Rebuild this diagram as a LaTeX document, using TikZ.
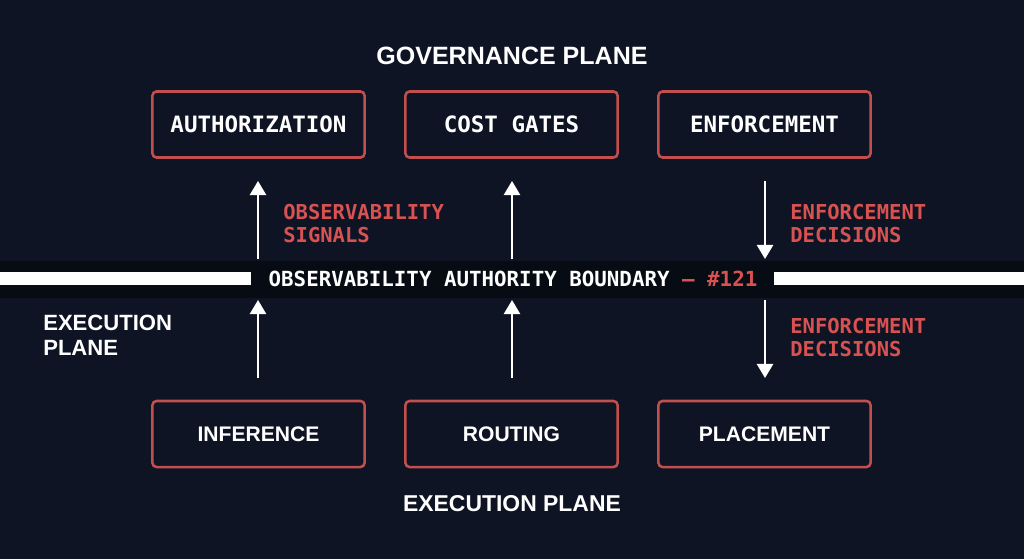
\documentclass[tikz,border=0pt]{standalone}
\usepackage{fontspec}
\setmainfont{Liberation Sans}
\newfontfamily\monofont{DejaVu Sans Mono}
\usetikzlibrary{arrows.meta}
\definecolor{bg}{HTML}{0E1424}
\definecolor{bandc}{HTML}{070B14}
\definecolor{redb}{HTML}{C24F4E}
\definecolor{redt}{HTML}{D85252}
\begin{document}
\begin{tikzpicture}[x=0.025cm,y=-0.025cm,
  box/.style={draw=redb,line width=1.8pt,rounded corners=0.1cm,fill=bg,
    minimum width=5.3cm,minimum height=1.65cm,text=white,inner sep=0pt},
  topbox/.style={box,font=\monofont\bfseries\fontsize{16}{18}\selectfont},
  botbox/.style={box,font=\bfseries\fontsize{15}{18}\selectfont},
  redlabel/.style={text=redt,align=left,anchor=west,inner sep=0pt,
    font=\monofont\bfseries\fontsize{14.6}{16.4}\selectfont},
  title/.style={text=white,inner sep=0pt,font=\bfseries\fontsize{17.8}{20}\selectfont},
  arr/.style={draw=white,line width=1.5pt,-{Triangle[width=11.5pt,length=10pt]}}
]
\useasboundingbox (0,0) rectangle (1024,559);
\fill[bg] (0,0) rectangle (1024,559);
% boundary band
\node[fill=bandc,minimum width=25.6cm,minimum height=0.925cm,inner sep=0pt] (band) at (512,279.5) {};
\fill[white] (0,272) rectangle (251,285);
\fill[white] (774,272) rectangle (1024,285);
\node[text=white,inner sep=0pt,font=\monofont\bfseries\fontsize{14.8}{17}\selectfont] (bnd) at (513,279)
  {OBSERVABILITY AUTHORITY BOUNDARY \textcolor{redt}{— \#121}};
% titles
\node[title] (gov) at (512,56) {GOVERNANCE PLANE};
\node[title,font=\bfseries\fontsize{16.3}{20}\selectfont] (exec) at (512,504) {EXECUTION PLANE};
\node[text=white,align=left,anchor=west,inner sep=0pt,font=\bfseries\fontsize{15.7}{17.8}\selectfont] (execl) at (43,335.5) {EXECUTION\\PLANE};
% top boxes
\node[topbox] (auth) at (258.5,124.5) {AUTHORIZATION};
\node[topbox] (cost) at (511.5,124.5) {COST GATES};
\node[topbox] (enf) at (764.5,124.5) {ENFORCEMENT};
% bottom boxes
\node[botbox] (inf) at (258.5,434) {INFERENCE};
\node[botbox] (rout) at (511.5,434) {ROUTING};
\node[botbox] (plac) at (764.5,434) {PLACEMENT};
% coordinates for arrows
\coordinate (a1) at (258,378); \coordinate (a2) at (258,300);
\coordinate (a3) at (258,259); \coordinate (a4) at (258,181);
\coordinate (b1) at (512,378); \coordinate (b2) at (512,300);
\coordinate (b3) at (512,259); \coordinate (b4) at (512,181);
\coordinate (c1) at (765,181); \coordinate (c2) at (765,259);
\coordinate (c3) at (765,300); \coordinate (c4) at (765,378);
\draw[arr] (a1) -- (a2);
\draw[arr] (a3) -- (a4);
\draw[arr] (b1) -- (b2);
\draw[arr] (b3) -- (b4);
\draw[arr] (c1) -- (c2);
\draw[arr] (c3) -- (c4);
% labels
\node[redlabel] (obs) at (283,223.5) {OBSERVABILITY\\SIGNALS};
\node[redlabel] (ed1) at (790,223.5) {ENFORCEMENT\\DECISIONS};
\node[redlabel] (ed2) at (790,337.5) {ENFORCEMENT\\DECISIONS};
\end{tikzpicture}
\end{document}
